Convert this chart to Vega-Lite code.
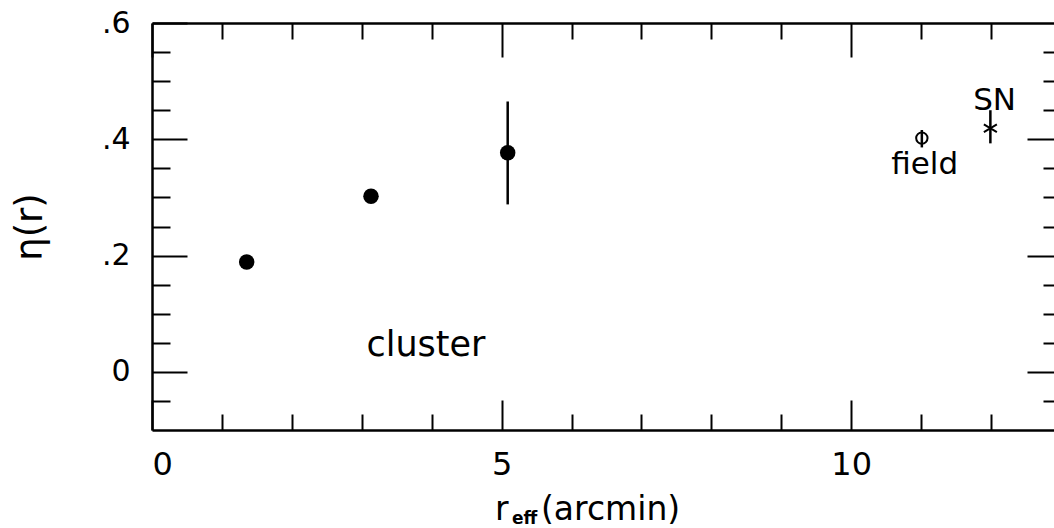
{
  "$schema": "https://vega.github.io/schema/vega-lite/v6.json",
  "width": 902,
  "height": 407,
  "autosize": "none",
  "padding": {"left": 152, "top": 23, "right": 0, "bottom": 98},
  "background": "white",
  "config": {
    "view": {"stroke": null},
    "axis": {"domainColor": "black", "tickColor": "black", "labelColor": "black", "titleColor": "black", "labelFont": "DejaVu Sans", "titleFont": "DejaVu Sans", "domainWidth": 2.5, "tickWidth": 2, "grid": false},
    "text": {"font": "DejaVu Sans", "color": "black"}
  },
  "datasets": {
    "obs": [
      {"kind": "cluster", "r": 1.354, "eta": 0.189},
      {"kind": "cluster", "r": 3.132, "eta": 0.302},
      {"kind": "cluster", "r": 5.087, "eta": 0.377, "lo": 0.288, "hi": 0.465},
      {"kind": "field", "r": 11.01, "eta": 0.402, "lo": 0.386, "hi": 0.416},
      {"kind": "SN", "r": 11.99, "eta": 0.419, "lo": 0.393, "hi": 0.45}
    ],
    "notes": [
      {"label": "cluster", "r": 3.918, "eta": 0.027},
      {"label": "field", "r": 11.05, "eta": 0.34},
      {"label": "SN", "r": 12.05, "eta": 0.45}
    ],
    "xtitle": [
      {"part": "r", "r": 4.906, "eta": -0.2548},
      {"part": "eff", "r": 5.149, "eta": -0.262},
      {"part": "(arcmin)", "r": 5.563, "eta": -0.2548}
    ]
  },
  "resolve": {"axis": {"x": "independent", "y": "independent"}},
  "layer": [
    {
      "data": {"name": "obs"},
      "transform": [{"filter": "isValid(datum.lo)"}],
      "mark": {"type": "rule", "color": "black", "strokeWidth": 2.5},
      "encoding": {
        "x": {"field": "r", "type": "quantitative", "scale": {"domain": [0, 12.9], "nice": false, "zero": false},
              "axis": {"orient": "bottom", "values": [0, 5, 10], "tickSize": -30, "labels": false, "title": null, "domain": true}},
        "y": {"field": "lo", "type": "quantitative", "scale": {"domain": [-0.1, 0.6], "nice": false, "zero": false},
              "axis": {"orient": "left", "values": [0, 0.2, 0.4, 0.6], "tickSize": -35, "labels": false, "title": null, "domain": true}},
        "y2": {"field": "hi"}
      }
    },
    {
      "data": {"name": "obs"},
      "transform": [{"filter": "datum.kind == 'cluster'"}],
      "mark": {"type": "point", "shape": "circle", "filled": true, "color": "black", "size": 240, "opacity": 1},
      "encoding": {
        "x": {"field": "r", "type": "quantitative",
              "axis": {"orient": "bottom", "values": [1, 2, 3, 4, 6, 7, 8, 9, 11, 12], "tickSize": -16, "labels": false, "title": null, "domain": false}},
        "y": {"field": "eta", "type": "quantitative",
              "axis": {"orient": "left", "values": [-0.05, 0.05, 0.1, 0.15, 0.25, 0.3, 0.35, 0.45, 0.5, 0.55], "tickSize": -18, "labels": false, "title": null, "domain": false}}
      }
    },
    {
      "data": {"name": "obs"},
      "transform": [{"filter": "datum.kind == 'field'"}],
      "mark": {"type": "point", "shape": "circle", "filled": false, "color": "black", "strokeWidth": 2, "size": 130, "opacity": 1},
      "encoding": {
        "x": {"field": "r", "type": "quantitative",
              "axis": {"orient": "top", "values": [0, 5, 10], "tickSize": -34, "labels": false, "title": null, "domain": true}},
        "y": {"field": "eta", "type": "quantitative",
              "axis": {"orient": "right", "offset": 7, "values": [0, 0.2, 0.4], "tickSize": -34, "labels": false, "title": null, "domain": false}}
      }
    },
    {
      "data": {"name": "obs"},
      "transform": [{"filter": "datum.kind == 'SN'"}],
      "mark": {"type": "point", "shape": "M-1,-0.6L1,0.6M-1,0.6L1,-0.6", "filled": false, "color": "black", "strokeWidth": 2, "size": 169, "opacity": 1},
      "encoding": {
        "x": {"field": "r", "type": "quantitative",
              "axis": {"orient": "top", "values": [1, 2, 3, 4, 6, 7, 8, 9, 11, 12], "tickSize": -16, "labels": false, "title": null, "domain": false}},
        "y": {"field": "eta", "type": "quantitative",
              "axis": {"orient": "right", "offset": 7, "values": [-0.05, 0.05, 0.1, 0.15, 0.25, 0.3, 0.35, 0.45, 0.5, 0.55], "tickSize": -18, "labels": false, "title": null, "domain": false}}
      }
    },
    {
      "data": {"name": "notes"},
      "transform": [{"filter": "datum.label == 'cluster'"}],
      "mark": {"type": "text", "fontSize": 35, "align": "center", "baseline": "alphabetic"},
      "encoding": {
        "x": {"field": "r", "type": "quantitative",
              "axis": {"orient": "bottom", "values": [0, 5, 10], "ticks": false, "domain": false, "labelFontSize": 32, "labelPadding": 19, "title": null}},
        "y": {"field": "eta", "type": "quantitative",
              "axis": {"orient": "left", "values": [0, 0.2, 0.4, 0.6], "ticks": false, "domain": false, "labelFontSize": 30, "labelPadding": 22,
                       "labelExpr": "datum.value == 0 ? '0' : replace(format(datum.value, '.1f'), '0.', '.')",
                       "title": "η(r)", "titleFontSize": 37, "titleFontWeight": "normal", "titlePadding": 52}},
        "text": {"field": "label"}
      }
    },
    {
      "data": {"name": "notes"},
      "transform": [{"filter": "datum.label == 'field'"}],
      "mark": {"type": "text", "fontSize": 31, "align": "center", "baseline": "alphabetic"},
      "encoding": {
        "x": {"field": "r", "type": "quantitative", "axis": null},
        "y": {"field": "eta", "type": "quantitative", "axis": null},
        "text": {"field": "label"}
      }
    },
    {
      "data": {"name": "notes"},
      "transform": [{"filter": "datum.label == 'SN'"}],
      "mark": {"type": "text", "fontSize": 31, "align": "center", "baseline": "alphabetic"},
      "encoding": {
        "x": {"field": "r", "type": "quantitative", "axis": null},
        "y": {"field": "eta", "type": "quantitative", "axis": null},
        "text": {"field": "label"}
      }
    },
    {
      "data": {"name": "xtitle"},
      "transform": [{"filter": "datum.part != 'eff'"}],
      "mark": {"type": "text", "fontSize": 33, "align": "left", "baseline": "alphabetic"},
      "encoding": {
        "x": {"field": "r", "type": "quantitative", "axis": null},
        "y": {"field": "eta", "type": "quantitative", "axis": null},
        "text": {"field": "part"}
      }
    },
    {
      "data": {"name": "xtitle"},
      "transform": [{"filter": "datum.part == 'eff'"}],
      "mark": {"type": "text", "fontSize": 17, "fontWeight": "bold", "align": "left", "baseline": "alphabetic"},
      "encoding": {
        "x": {"field": "r", "type": "quantitative", "axis": null},
        "y": {"field": "eta", "type": "quantitative", "axis": null},
        "text": {"field": "part"}
      }
    }
  ]
}
